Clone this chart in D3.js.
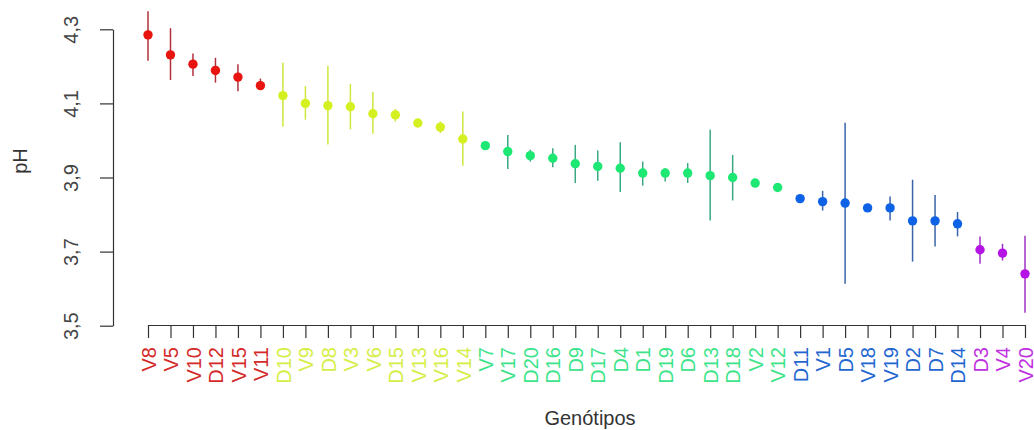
<!DOCTYPE html>
<html>
<head>
<meta charset="utf-8">
<script src="https://cdn.jsdelivr.net/npm/d3@7"></script>
<style>
  body { margin: 0; background: #fff; }
  svg { display: block; font-family: "Liberation Sans", Arial, sans-serif; }
</style>
</head>
<body>
<svg id="chart" width="1034" height="430"></svg>
<script>
// Genotypes ordered by mean pH, with interval limits and cluster group
const genotypes = ["V8","V5","V10","D12","V15","V11",
  "D10","V9","D8","V3","V6","D15","V13","V16","V14",
  "V7","V17","D20","D16","D9","D17","D4","D1","D19","D6","D13","D18","V2","V12",
  "D11","V1","D5","V18","V19","D2","D7","D14",
  "D3","V4","V20"];

const means = [4.285,4.231,4.206,4.189,4.171,4.148,
  4.121,4.100,4.094,4.091,4.072,4.069,4.047,4.036,4.004,
  3.986,3.970,3.959,3.952,3.937,3.930,3.925,3.912,3.912,3.912,3.905,3.900,3.885,3.873,
  3.843,3.835,3.831,3.818,3.818,3.783,3.783,3.775,
  3.705,3.696,3.640];

const lower = [4.215,4.163,4.174,4.156,4.133,4.138,
  4.037,4.056,3.989,4.030,4.018,4.051,4.042,4.020,3.932,
  3.980,3.923,3.943,3.928,3.885,3.891,3.861,3.878,3.889,3.885,3.784,3.838,3.880,3.868,
  3.838,3.811,3.613,3.813,3.784,3.673,3.714,3.741,
  3.667,3.676,3.535];

const upper = [4.349,4.303,4.235,4.223,4.206,4.167,
  4.210,4.147,4.201,4.152,4.131,4.085,4.052,4.051,4.078,
  3.992,4.015,3.975,3.979,3.988,3.973,3.995,3.943,3.925,3.939,4.029,3.961,3.890,3.878,
  3.848,3.864,4.048,3.823,3.849,3.894,3.853,3.807,
  3.741,3.721,3.743];

const groups = [1,1,1,1,1,1,
  2,2,2,2,2,2,2,2,2,
  3,3,3,3,3,3,3,3,3,3,3,3,3,3,
  4,4,4,4,4,4,4,4,
  5,5,5];

const yTicks = [3.5, 3.7, 3.9, 4.1, 4.3];

// Per-group colours: point fill, interval line, label text
const pointColors = {1:"#e8140f", 2:"#d4f020", 3:"#1ee874", 4:"#0e62e6", 5:"#b414e4"};
const barColors   = {1:"#b0303c", 2:"#cfe63c", 3:"#3aa880", 4:"#3a64a8", 5:"#a030c4"};
const labelColors = {1:"#d42a2a", 2:"#d6ee48", 3:"#3ee48a", 4:"#2266d0", 5:"#c030e0"};

const data = genotypes.map((g, i) => ({
  g, mean: means[i], lo: lower[i], hi: upper[i], grp: groups[i]
}));

const svg = d3.select("#chart");
const fontSize = 20;

const x = d3.scalePoint().domain(genotypes).range([148, 1025]);
const y = d3.scaleLinear().domain([3.5, 4.3]).range([325.7, 29.3]);

const ptBR = d3.formatLocale({decimal: ",", thousands: ".", grouping: [3], currency: ["R$", ""]});
const fmt = ptBR.format(".1f");

// Y axis
const yAxis = svg.append("g")
  .attr("transform", "translate(113,0)")
  .call(d3.axisLeft(y).tickValues(yTicks).tickFormat(fmt).tickSize(13).tickSizeOuter(0));
yAxis.select(".domain").attr("stroke", "#333").attr("stroke-width", 1.2);
yAxis.selectAll(".tick line").attr("stroke", "#333").attr("stroke-width", 1.2);
yAxis.selectAll(".tick text")
  .attr("transform", "rotate(-90)")
  .attr("x", 0).attr("y", -35).attr("dy", 0)
  .attr("text-anchor", "middle")
  .attr("fill", "#444")
  .style("font-size", fontSize + "px");

// X axis
const xAxis = svg.append("g")
  .attr("transform", "translate(0,325)")
  .call(d3.axisBottom(x).tickSize(13).tickSizeOuter(0));
xAxis.select(".domain").attr("stroke", "#333").attr("stroke-width", 1.2);
xAxis.selectAll(".tick line").attr("stroke", "#333").attr("stroke-width", 1.2);
xAxis.selectAll(".tick text")
  .attr("transform", "rotate(-90)")
  .attr("x", -22).attr("y", 0).attr("dy", "0.36em")
  .attr("text-anchor", "end")
  .attr("fill", (d, i) => labelColors[groups[i]])
  .style("font-size", fontSize + "px");

// Interval lines
svg.append("g").selectAll("line")
  .data(data)
  .join("line")
  .attr("x1", d => x(d.g)).attr("x2", d => x(d.g))
  .attr("y1", d => y(d.lo)).attr("y2", d => y(d.hi))
  .attr("stroke", d => barColors[d.grp])
  .attr("stroke-width", 1.5);

// Mean points
svg.append("g").selectAll("circle")
  .data(data)
  .join("circle")
  .attr("cx", d => x(d.g))
  .attr("cy", d => y(d.mean))
  .attr("r", 4.7)
  .attr("fill", d => pointColors[d.grp]);

// Axis titles
svg.append("text")
  .attr("transform", "translate(27,161) rotate(-90)")
  .attr("text-anchor", "middle")
  .attr("fill", "#333")
  .style("font-size", fontSize + "px")
  .text("pH");

svg.append("text")
  .attr("x", 590).attr("y", 425)
  .attr("text-anchor", "middle")
  .attr("fill", "#333")
  .style("font-size", fontSize + "px")
  .text("Genótipos");
</script>
</body>
</html>
